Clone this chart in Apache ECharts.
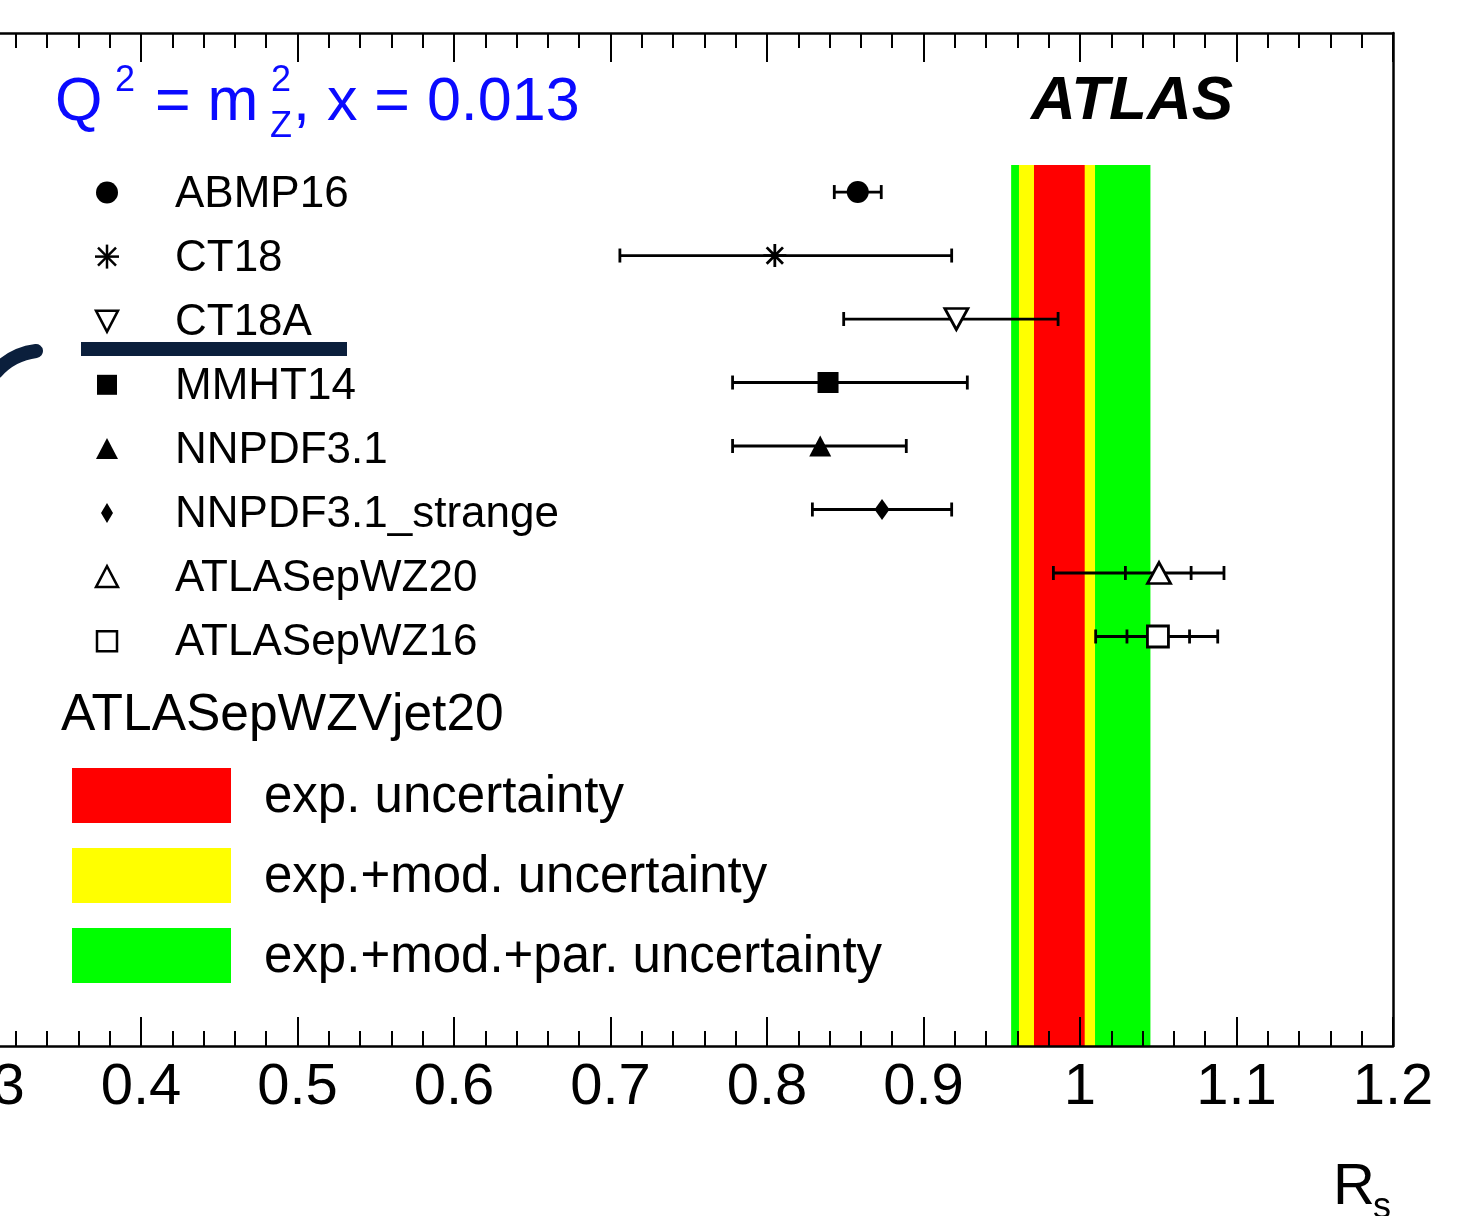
<!DOCTYPE html>
<html><head><meta charset="utf-8">
<script src="https://cdn.jsdelivr.net/npm/echarts@6/dist/echarts.min.js"></script>
<style>html,body{margin:0;padding:0;background:#fff}#c{width:1475px;height:1216px}</style>
</head><body><div id="c"></div>
<script>
// ---------------- data ----------------
const pdfSets = ['ABMP16','CT18','CT18A','MMHT14','NNPDF3.1','NNPDF3.1_strange','ATLASepWZ20','ATLASepWZ16'];
const rsCentral = [0.858, 0.805, 0.921, 0.839, 0.834, 0.8735, 1.0505, 1.0498];
const rsLow     = [0.843, 0.706, 0.849, 0.778, 0.778, 0.829, 0.983, 1.010];
const rsHigh    = [0.873, 0.918, 0.986, 0.928, 0.889, 0.918, 1.092, 1.088];
const rsInnerLow  = [null, null, null, null, null, null, 1.029, 1.030];
const rsInnerHigh = [null, null, null, null, null, null, 1.071, 1.070];
const markerKinds = ['circle','asterisk','triangleDownOpen','square','triangle','diamond','triangleOpen','squareOpen'];

const fitName = 'ATLASepWZVjet20';
const bandLabels = ['exp. uncertainty','exp.+mod. uncertainty','exp.+mod.+par. uncertainty'];
const bandLow  = [0.9706, 0.961, 0.956];
const bandHigh = [1.003, 1.0096, 1.045];
const bandColors = ['#ff0000','#ffff00','#00ff00'];

const xTickValues = [0.3,0.4,0.5,0.6,0.7,0.8,0.9,1.0,1.1,1.2];
const xTickLabels = ['0.3','0.4','0.5','0.6','0.7','0.8','0.9','1','1.1','1.2'];

// ---------------- layout / style ----------------
const FONT = '"Liberation Sans", Arial, Helvetica, sans-serif';
const Y_MIN = -2.505, Y_MAX = 13.45, BAND_TOP = -0.426;

const chart = echarts.init(document.getElementById('c'), null, {renderer:'canvas'});

const ASTER = 'path://M11 0L11 22M0 11L22 11M3.2 3.2L18.8 18.8M3.2 18.8L18.8 3.2';
function symbolFor(kind){
  switch(kind){
    case 'circle': return {symbol:'circle', symbolSize:22, itemStyle:{color:'#000', opacity:1}};
    case 'asterisk': return {symbol:ASTER, symbolSize:23, itemStyle:{color:'none', borderColor:'#000', borderWidth:2.8, opacity:1}};
    case 'triangleDownOpen': return {symbol:'triangle', symbolSize:[23,21], symbolRotate:180, itemStyle:{color:'#fff', borderColor:'#000', borderWidth:2.8, opacity:1}};
    case 'square': return {symbol:'rect', symbolSize:21, itemStyle:{color:'#000', opacity:1}};
    case 'triangle': return {symbol:'triangle', symbolSize:[22,21], itemStyle:{color:'#000', opacity:1}};
    case 'diamond': return {symbol:'diamond', symbolSize:[15,21], itemStyle:{color:'#000', opacity:1}};
    case 'triangleOpen': return {symbol:'triangle', symbolSize:[23,21], itemStyle:{color:'#fff', borderColor:'#000', borderWidth:2.8, opacity:1}};
    case 'squareOpen': return {symbol:'rect', symbolSize:21, itemStyle:{color:'#fff', borderColor:'#000', borderWidth:2.8, opacity:1}};
  }
}

function legendMarker(kind, cx, cy){
  const stroke = {stroke:'#000', lineWidth:2.5};
  switch(kind){
    case 'circle': return {type:'circle', shape:{cx, cy, r:11}, style:{fill:'#000'}};
    case 'asterisk': return {type:'group', children:[
      {type:'line', shape:{x1:cx, y1:cy-12, x2:cx, y2:cy+12}, style:stroke},
      {type:'line', shape:{x1:cx-12, y1:cy, x2:cx+12, y2:cy}, style:stroke},
      {type:'line', shape:{x1:cx-9, y1:cy-9, x2:cx+9, y2:cy+9}, style:stroke},
      {type:'line', shape:{x1:cx-9, y1:cy+9, x2:cx+9, y2:cy-9}, style:stroke}]};
    case 'triangleDownOpen': return {type:'polygon', shape:{points:[[cx-11,cy-10],[cx+11,cy-10],[cx,cy+11]]}, style:{fill:'#fff', stroke:'#000', lineWidth:2.5}};
    case 'square': return {type:'rect', shape:{x:cx-10, y:cy-10, width:20, height:20}, style:{fill:'#000'}};
    case 'triangle': return {type:'polygon', shape:{points:[[cx-11,cy+10],[cx+11,cy+10],[cx,cy-11]]}, style:{fill:'#000'}};
    case 'diamond': return {type:'polygon', shape:{points:[[cx,cy-10],[cx+6,cy],[cx,cy+10],[cx-6,cy]]}, style:{fill:'#000'}};
    case 'triangleOpen': return {type:'polygon', shape:{points:[[cx-11,cy+10],[cx+11,cy+10],[cx,cy-11]]}, style:{fill:'#fff', stroke:'#000', lineWidth:2.5}};
    case 'squareOpen': return {type:'rect', shape:{x:cx-10, y:cy-10, width:20, height:20}, style:{fill:'#fff', stroke:'#000', lineWidth:2.5}};
  }
}

function txt(text, x, y, size, extra){
  return {type:'text', z:50, style:Object.assign({text, x, y, fill:'#000', fontSize:size, fontFamily:FONT, align:'left', verticalAlign:'middle'}, extra||{})};
}

// ---------------- graphics (texts, legend, annotation) ----------------
const graphics = [];
const BLUE = '#0a0aff';
graphics.push(txt('Q', 55, 103, 61, {fill:BLUE}));
graphics.push(txt('2', 115, 81, 36, {fill:BLUE}));
graphics.push(txt(' = m', 138, 103, 61, {fill:BLUE}));
graphics.push(txt('2', 271, 81, 36, {fill:BLUE}));
graphics.push(txt('Z', 270, 127, 36, {fill:BLUE}));
graphics.push(txt(', x = 0.013', 293, 103, 61, {fill:BLUE}));
graphics.push(txt('ATLAS', 1031, 102, 62, {fontWeight:'bold', fontStyle:'italic'}));

const LEG_X = 107, LEG_TX = 175, LEG_Y0 = 192.5, LEG_DY = 64.1;
pdfSets.forEach((name, i) => {
  const cy = LEG_Y0 + i*LEG_DY;
  const m = legendMarker(markerKinds[i], LEG_X, cy);
  m.z = 50;
  graphics.push(m);
  graphics.push(txt(name, LEG_TX, cy + 2, 44));
});

graphics.push(txt(fitName, 61, 716, 51.5));
bandLabels.forEach((lab, i) => {
  const y = 768 + i*80;
  graphics.push({type:'rect', z:50, shape:{x:72, y, width:159, height:55}, style:{fill:bandColors[i]}});
  graphics.push(txt(lab, 264, y + 30, 51));
});

// axis title R_s
graphics.push(txt('R', 1333, 1188, 58));
graphics.push(txt('s', 1373, 1208, 36));

// hand-drawn annotation strokes
const NAVY = '#0b1f3c';
graphics.push({type:'line', z:60, shape:{x1:81, y1:349, x2:347, y2:349}, style:{stroke:NAVY, lineWidth:14}});
graphics.push({type:'bezierCurve', z:60, shape:{x1:-4, y1:372, cpx1:12, cpy1:354, x2:36, y2:351}, style:{stroke:NAVY, lineWidth:14, lineCap:'round', fill:'none'}});

// ---------------- option ----------------
const axisCommon = {
  type:'value', min:xTickValues[0], max:xTickValues[xTickValues.length-1], interval:0.1,
  z:10,
  axisLine:{show:true, onZero:false, lineStyle:{color:'#000', width:2.5}},
  axisTick:{show:true, inside:true, length:29, lineStyle:{color:'#000', width:2}},
  minorTick:{show:true, splitNumber:5, length:15, lineStyle:{color:'#000', width:2}},
  splitLine:{show:false}
};

const option = {
  animation:false,
  backgroundColor:'#fff',
  grid:{left:-15.5, right:82, top:33, bottom:170, outerBoundsMode:'none', containLabel:false},
  xAxis:[
    Object.assign({}, axisCommon, {position:'bottom',
      axisLabel:{show:true, margin:13, color:'#000', fontSize:58, fontFamily:FONT,
        formatter:(v)=>{ const k = xTickValues.findIndex(t=>Math.abs(t-v)<1e-6); return k>=0 ? xTickLabels[k] : ''; }}}),
    Object.assign({}, axisCommon, {position:'top', axisLabel:{show:false}})
  ],
  yAxis:{type:'value', min:Y_MIN, max:Y_MAX, inverse:true, position:'right',
    axisLine:{show:true, lineStyle:{color:'#000', width:2.5}}, axisTick:{show:false}, axisLabel:{show:false}, splitLine:{show:false}, z:10},
  graphic:graphics,
  series:[
    {
      type:'custom', name:'bands', z:1,
      encode:{x:[0,1], y:3},
      data:[2,1,0].map(i => [bandLow[i], bandHigh[i], i, BAND_TOP]),
      renderItem:(params, api) => {
        const p1 = api.coord([api.value(0), api.value(3)]);
        const p2 = api.coord([api.value(1), Y_MAX]);
        return {type:'rect', shape:{x:p1[0], y:p1[1], width:p2[0]-p1[0], height:p2[1]-p1[1]}, style:{fill:bandColors[api.value(2)]}};
      }
    },
    {
      type:'custom', name:'errors', z:3,
      encode:{x:[1,2], y:0},
      data:pdfSets.map((n,i) => [i, rsLow[i], rsHigh[i], rsInnerLow[i]==null?'-':rsInnerLow[i], rsInnerHigh[i]==null?'-':rsInnerHigh[i]]),
      renderItem:(params, api) => {
        const y = api.value(0);
        const a = api.coord([api.value(1), y]);
        const b = api.coord([api.value(2), y]);
        const st = {stroke:'#000', lineWidth:2.8};
        const h = 7;
        const ch = [
          {type:'line', shape:{x1:a[0], y1:a[1], x2:b[0], y2:b[1]}, style:st},
          {type:'line', shape:{x1:a[0], y1:a[1]-h, x2:a[0], y2:a[1]+h}, style:st},
          {type:'line', shape:{x1:b[0], y1:b[1]-h, x2:b[0], y2:b[1]+h}, style:st}
        ];
        [api.value(3), api.value(4)].forEach(v => {
          if (v != null && !isNaN(v)) {
            const c = api.coord([v, y]);
            ch.push({type:'line', shape:{x1:c[0], y1:c[1]-h, x2:c[0], y2:c[1]+h}, style:st});
          }
        });
        return {type:'group', children:ch};
      }
    },
    {
      type:'scatter', name:'central', z:4,
      itemStyle:{opacity:1},
      data:pdfSets.map((n,i) => Object.assign({name:n, value:[rsCentral[i], i]}, symbolFor(markerKinds[i])))
    }
  ]
};
chart.setOption(option);
</script>
</body></html>
